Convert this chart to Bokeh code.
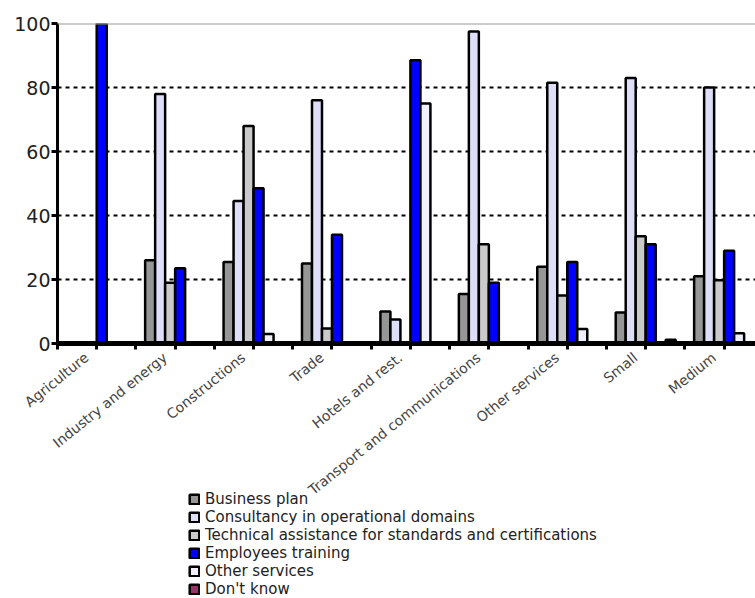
from bokeh.plotting import figure
from bokeh.layouts import column
from bokeh.models import Range1d, FixedTicker, Span, Legend, LegendItem, LinearAxis
from bokeh.embed import file_html
from bokeh.resources import INLINE

# Categories along the x axis
categories = ["Agriculture", "Industry and energy", "Constructions", "Trade",
              "Hotels and rest.", "Transport and communications", "Other services",
              "Small", "Medium"]

# Share of firms (%) per type of support
business_plan = [0, 26, 25.5, 25, 10, 15.5, 24, 9.7, 21]
consultancy = [0, 78, 44.5, 76, 7.5, 97.5, 81.5, 83, 80]
technical = [0, 19, 68, 4.7, 0, 31, 15, 33.5, 19.8]
training = [100, 23.5, 48.5, 34, 88.5, 19, 25.5, 31, 29]
other_services = [0, 0, 3, 0, 75, 0, 4.5, 0, 3.2]
dont_know = [0, 0, 0, 0, 0, 0, 0, 1.2, 0]

series_names = ["Business plan", "Consultancy in operational domains",
                "Technical assistance for standards and certifications",
                "Employees training", "Other services", "Don't know"]
series_values = [business_plan, consultancy, technical, training, other_services, dont_know]
series_colors = ["#969696", "#dedef8", "#cacaca", "#0000ff", "#f0f0ff", "#993366"]

y_ticks = [0, 20, 40, 60, 80, 100]

n_cat = len(categories)
n_ser = len(series_names)
group_width = 0.765
bar_width = group_width / n_ser
group_start = (1 - group_width) / 2

TOP, FRAME_H, BOTTOM = 23, 320, 170
TOTAL_H = 598
LEGEND_TOP = 491          # where the legend strip starts on the page
MAIN_H = TOP + FRAME_H + BOTTOM


def bar_positions(k):
    return [i + group_start + (k + 0.5) * bar_width for i in range(n_cat)]


p = figure(frame_width=698, frame_height=FRAME_H, output_backend="svg", toolbar_location=None,
           x_range=Range1d(0, 8.9), y_range=Range1d(0, 100),
           min_border_left=57, min_border_right=0, min_border_top=TOP,
           min_border_bottom=BOTTOM)
p.outline_line_color = None
p.background_fill_color = "white"

for k, (vals, col) in enumerate(zip(series_values, series_colors)):
    p.vbar(x=bar_positions(k), top=vals, width=bar_width, bottom=0, fill_color=col,
           line_color="black", line_width=2.5)

# top border of the plotting area
p.add_layout(Span(location=100, dimension="width", line_color="#9a9a9a", line_width=2))

# y axis
p.yaxis.ticker = FixedTicker(ticks=y_ticks)
p.yaxis.axis_line_width = 3
p.yaxis.axis_line_color = "black"
p.yaxis.major_tick_line_width = 3
p.yaxis.major_tick_out = 6
p.yaxis.major_tick_in = 0
p.yaxis.minor_tick_line_color = None
p.yaxis.major_label_text_font = "DejaVu Sans"
p.yaxis.major_label_text_font_size = "19px"
p.yaxis.major_label_text_color = "#222222"
p.yaxis.major_label_standoff = 1

# x axis: ticks at category centres and category boundaries (no labels)
centres = [i + 0.5 for i in range(n_cat)]
p.xaxis.ticker = FixedTicker(ticks=centres, minor_ticks=list(range(n_cat + 1)))
p.xaxis.major_label_text_font_size = "0px"
p.xaxis.major_label_standoff = 0
p.xaxis.axis_line_width = 5
p.xaxis.axis_line_color = "black"
p.xaxis.major_tick_line_width = 3
p.xaxis.major_tick_out = 6
p.xaxis.major_tick_in = 0
p.xaxis.minor_tick_line_width = 3
p.xaxis.minor_tick_line_color = "black"
p.xaxis.minor_tick_out = 6
p.xaxis.minor_tick_in = 0

# category names, slanted, ending just left of each category centre
label_shift = 0.13
label_pos = [c - label_shift for c in centres]
label_axis = LinearAxis(ticker=FixedTicker(ticks=label_pos, minor_ticks=[]),
                        major_label_overrides={c: name for c, name in zip(label_pos, categories)},
                        major_label_orientation=0.68,
                        axis_line_color=None, major_tick_line_color=None,
                        minor_tick_line_color=None,
                        major_label_text_font="DejaVu Sans",
                        major_label_text_font_size="14px",
                        major_label_text_color="#444444",
                        major_label_standoff=0)
p.add_layout(label_axis, "below")

# grid
p.xgrid.grid_line_color = None
p.ygrid.ticker = FixedTicker(ticks=[20, 40, 60, 80])
p.ygrid.grid_line_color = "black"
p.ygrid.grid_line_width = 2
p.ygrid.grid_line_dash = "4 4"

# legend strip, pulled up over the empty bottom margin of the chart
# (hidden copies of the series supply the swatches)
LEG_H = TOTAL_H - LEGEND_TOP
lf = figure(width=755, height=LEG_H, output_backend="svg", toolbar_location=None,
            x_axis_type=None, y_axis_type=None, x_range=Range1d(0, 1), y_range=Range1d(0, 1),
            min_border=0, margin=(LEGEND_TOP - MAIN_H, 0, 0, 0))
lf.outline_line_color = None
lf.background_fill_alpha = 0
lf.border_fill_alpha = 0
lf.xgrid.visible = False
lf.ygrid.visible = False
items = []
for k, (name, vals, col) in enumerate(zip(series_names, series_values, series_colors)):
    r = lf.vbar(x=bar_positions(k), top=vals, width=bar_width, fill_color=col,
                line_color="black", line_width=2.5, visible=False)
    items.append(LegendItem(label=name, renderers=[r]))
legend = Legend(items=items, location=(131, 0), orientation="vertical",
                label_text_font="DejaVu Sans", label_text_font_size="15px",
                label_text_color="#222222", glyph_width=12, glyph_height=12,
                label_height=18, spacing=0, label_standoff=5, padding=0, margin=0,
                border_line_color=None, background_fill_alpha=0)
lf.add_layout(legend, "center")

layout = column(p, lf, spacing=0)
open("out.html", "w").write(file_html(layout, INLINE))
